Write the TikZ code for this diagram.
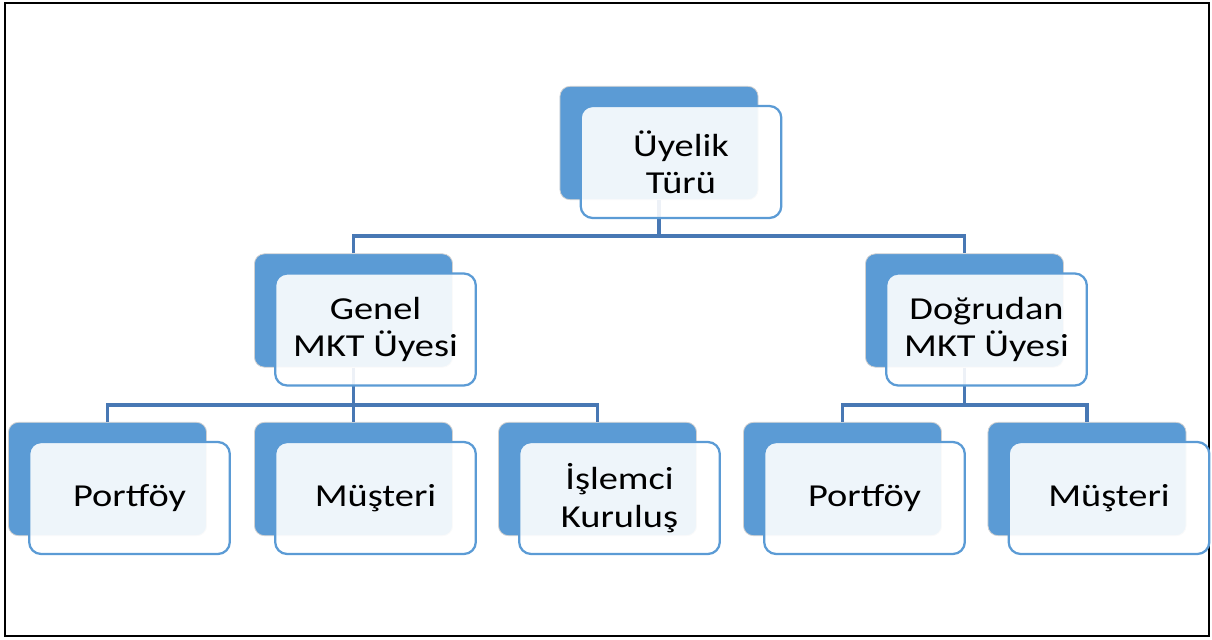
\documentclass[tikz,border=0pt]{standalone}
\usepackage{fontspec}
\setmainfont{Carlito}[FakeStretch=1.2]
\definecolor{kutumavi}{RGB}{91,155,213}
\definecolor{cizgimavi}{RGB}{72,120,180}

\begin{document}
\begin{tikzpicture}[x=0.75pt,y=0.75pt,yscale=-1,xscale=1,
    backbox/.style={draw=black!18, line width=0.6pt, fill=kutumavi, rounded corners=7.5pt,
      minimum width=148.6pt, minimum height=85pt, inner sep=0pt},
    frontbox/.style={draw=kutumavi, line width=1.7pt, fill=white, fill opacity=0.9, text opacity=1,
      rounded corners=9pt, minimum width=150.5pt, minimum height=84pt, inner sep=0pt,
      align=center, font=\fontsize{24}{28}\selectfont},
    link/.style={draw=cizgimavi, line width=2.4pt}]
\useasboundingbox (0,0) rectangle (1212,639);
%Outer frame
\draw [line width=2pt] (5,3) rectangle (1209,636);

%Back boxes
\node [backbox] (tur-b) at (659,143) {};
\node [backbox] (genel-b) at (353.5,310.5) {};
\node [backbox] (dogrudan-b) at (964.5,310.5) {};
\node [backbox] (portfoyA-b) at (107.5,479) {};
\node [backbox] (musteriA-b) at (353.5,479) {};
\node [backbox] (islemci-b) at (597.5,479) {};
\node [backbox] (portfoyB-b) at (842.5,479) {};
\node [backbox] (musteriB-b) at (1087,479) {};

%Connectors
\coordinate (bus1) at (659,236);
\coordinate (bus2) at (353.5,405);
\coordinate (bus3) at (964.5,405);
\draw [link] (tur-b.south) -- (bus1);
\draw [link] (genel-b.north) |- (bus1) -| (dogrudan-b.north);
\draw [link] (genel-b.south) -- (musteriA-b.north);
\draw [link] (portfoyA-b.north) |- (bus2) -| (islemci-b.north);
\draw [link] (dogrudan-b.south) -- (bus3);
\draw [link] (portfoyB-b.north) |- (bus3) -| (musteriB-b.north);

%Front boxes
\node [frontbox] (tur) at ([shift={(22,19)}]tur-b.center) {Üyelik\\Türü};
\node [frontbox] (genel) at ([shift={(22,19)}]genel-b.center) {Genel\\MKT Üyesi};
\node [frontbox] (dogrudan) at ([shift={(22,19)}]dogrudan-b.center) {Doğrudan\\MKT Üyesi};
\node [frontbox] (portfoyA) at ([shift={(22,19)}]portfoyA-b.center) {Portföy};
\node [frontbox] (musteriA) at ([shift={(22,19)}]musteriA-b.center) {Müşteri};
\node [frontbox] (islemci) at ([shift={(22,19)}]islemci-b.center) {İşlemci\\Kuruluş};
\node [frontbox] (portfoyB) at ([shift={(22,19)}]portfoyB-b.center) {Portföy};
\node [frontbox] (musteriB) at ([shift={(22,19)}]musteriB-b.center) {Müşteri};
\end{tikzpicture}
\end{document}
